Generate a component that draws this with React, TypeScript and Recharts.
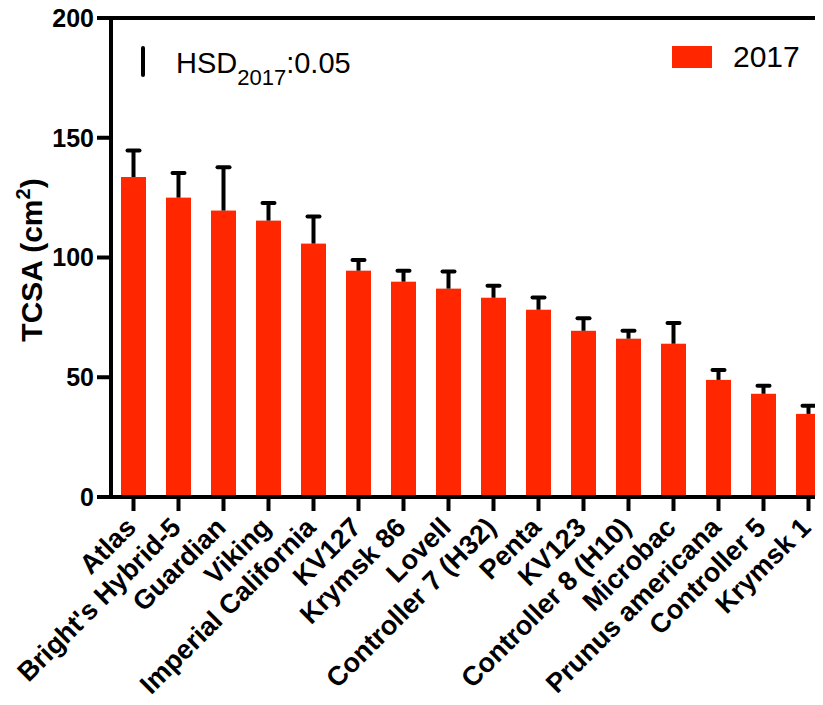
import React from 'react';
import { BarChart, Bar, XAxis, YAxis, ReferenceLine, Legend } from 'recharts';

const categories = [
  'Atlas',
  "Bright's Hybrid-5",
  'Guardian',
  'Viking',
  'Imperial California',
  'KV127',
  'Krymsk 86',
  'Lovell',
  'Controller 7 (H32)',
  'Penta',
  'KV123',
  'Controller 8 (H10)',
  'Microbac',
  'Prunus americana',
  'Controller 5',
  'Krymsk 1',
];
const tcsa2017 = [133.6, 125.0, 119.6, 115.4, 105.8, 94.5, 89.9, 87.0, 83.2, 78.2, 69.4, 66.1, 64.0, 48.9, 43.1, 34.7];
const errUp2017 = [11.1, 10.3, 18.1, 7.4, 11.3, 4.5, 4.6, 7.2, 5.0, 5.1, 5.2, 3.3, 8.6, 4.1, 3.3, 3.4];
const yTicks = [0, 50, 100, 150, 200];
const seriesName = '2017';

const data = categories.map((name, i) => ({ name, tcsa: tcsa2017[i], err: errUp2017[i] }));

const FONT = '"Liberation Sans", Arial, Helvetica, sans-serif';
const RED = '#ff2600';

// bar plus upper-only error whisker, scaled from the bar's own pixel height
const BarWithError = (props: any) => {
  const { x, y, width, height, payload } = props;
  if (!payload || !height) return null;
  const k = height / payload.tcsa;
  const top = y - payload.err * k;
  const cx = x + width / 2;
  return (
    <g>
      <rect x={x} y={y} width={width} height={height} fill={RED} />
      <line x1={cx} y1={y} x2={cx} y2={top} stroke="#000" strokeWidth={4} />
      <line x1={cx - 6} y1={top} x2={cx + 6} y2={top} stroke="#000" strokeWidth={4} strokeLinecap="round" />
    </g>
  );
};

const XTick = (props: any) => {
  const { x, y, payload } = props;
  const ax = x + 4;
  const ay = y + 16;
  return (
    <text
      x={ax}
      y={ay}
      transform={`rotate(-45, ${ax}, ${ay})`}
      textAnchor="end"
      fontFamily={FONT}
      fontWeight="bold"
      fontSize={27}
      fill="#000"
    >
      {payload.value}
    </text>
  );
};

const YTitle = () => (
  <text
    x={42}
    y={260}
    transform="rotate(-90, 42, 260)"
    textAnchor="middle"
    fontFamily={FONT}
    fontWeight="bold"
    fontSize={30}
    fill="#000"
  >
    TCSA (cm
    <tspan fontSize={20} dy={-12}>2</tspan>
    <tspan dy={12}>)</tspan>
  </text>
);

const LegendBox = (props: any) => {
  const item = props.payload && props.payload[0];
  return (
    <div style={{ display: 'flex', alignItems: 'center', fontFamily: FONT, fontSize: 30, lineHeight: '34px', color: '#000' }}>
      <span style={{ display: 'inline-block', width: 40, height: 22, background: (item && item.color) || RED, marginRight: 21 }} />
      <span>{(item && item.value) || seriesName}</span>
    </div>
  );
};

export default function App() {
  return (
    <div style={{ position: 'relative', margin: -8, width: 823, height: 705, overflow: 'hidden', background: '#fff' }}>
      <BarChart width={840} height={705} data={data} margin={{ top: 18, right: 9, left: 0, bottom: 0 }}>
        <XAxis
          dataKey="name"
          interval={0}
          height={208}
          tickSize={14}
          tick={<XTick />}
          axisLine={{ stroke: '#000', strokeWidth: 4 }}
          tickLine={{ stroke: '#000', strokeWidth: 4 }}
        />
        <YAxis
          width={111}
          domain={[0, 200]}
          ticks={yTicks}
          tickSize={14}
          tickMargin={3}
          axisLine={{ stroke: '#000', strokeWidth: 4 }}
          tickLine={{ stroke: '#000', strokeWidth: 4 }}
          tick={{ fill: '#000', fontSize: 25, fontWeight: 'bold', fontFamily: FONT }}
          label={{ content: () => <YTitle /> }}
        />
        <ReferenceLine y={200} stroke="#000" strokeWidth={4} />
        <Legend
          layout="horizontal"
          verticalAlign="middle"
          align="center"
          content={<LegendBox />}
          wrapperStyle={{ top: 40, left: 672, width: 'auto', height: 'auto' }}
        />
        <Bar dataKey="tcsa" name={seriesName} fill={RED} barSize={25} shape={<BarWithError />} isAnimationActive={false} />
      </BarChart>
      <svg width={823} height={705} style={{ position: 'absolute', left: 0, top: 0, pointerEvents: 'none' }}>
        <line x1={143} y1={48} x2={143} y2={75} stroke="#000" strokeWidth={4} strokeLinecap="round" />
        <text x={176} y={73} fontFamily={FONT} fontSize={29} fill="#000">
          HSD
          <tspan fontSize={22} dy={12}>2017</tspan>
          <tspan dy={-12}>:0.05</tspan>
        </text>
      </svg>
    </div>
  );
}
